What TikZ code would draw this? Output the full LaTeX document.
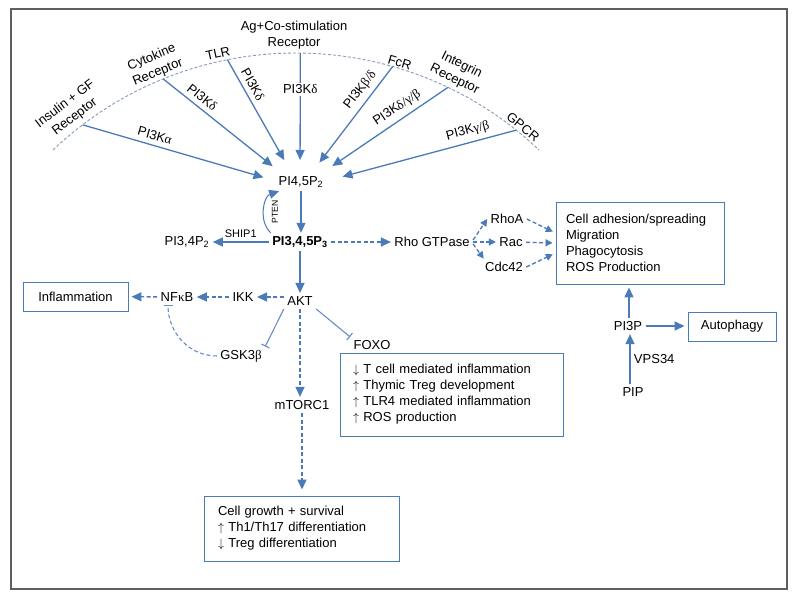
\documentclass[tikz,border=0pt]{standalone}
\usepackage{fontspec}
\setmainfont{Liberation Sans}
\newfontfamily\grk{Liberation Serif}
\usetikzlibrary{arrows.meta, positioning}
\definecolor{pathblue}{RGB}{74,122,184}
\definecolor{arcgray}{RGB}{135,155,182}
\definecolor{framegray}{RGB}{95,95,95}

\tikzset{
  every node/.style={font=\fontsize{13}{16}\selectfont},
  arr/.style={draw=pathblue, line width=1.3pt, -{Triangle[length=10pt,width=9pt]}},
  darr/.style={arr, dash pattern=on 4pt off 2.5pt},
  sarr/.style={darr, -{Triangle[length=7pt,width=7pt]}},
  inhib/.style={draw=pathblue!85, line width=1.1pt, -{Bar[width=9pt]}},
  outbox/.style={draw=pathblue, line width=0.9pt, inner sep=0pt, align=left},
  small/.style={font=\fontsize{11}{13}\selectfont},
  tiny/.style={font=\fontsize{8.6}{10}\selectfont},
}

\begin{document}
\begin{tikzpicture}[x=1pt,y=1pt]
    \useasboundingbox (0,0) rectangle (800,599);
    \draw[framegray, line width=1.2pt] (11,10) rectangle (787,590);

    % membrane and receptors
    \coordinate (mc) at (296,193);
    \coordinate (hub) at (300,411);
    \draw[arcgray, line width=0.9pt, dash pattern=on 3pt off 2pt]
        ([shift={(133.5:353)}]mc) arc (133.5:46.5:353);

    \coordinate (insR) at ([shift={(127.2:353)}]mc);
    \coordinate (cytR) at ([shift={(112.1:353)}]mc);
    \coordinate (tlrR) at ([shift={(101.2:353)}]mc);
    \coordinate (agR)  at ([shift={(89.3:353)}]mc);
    \coordinate (fcR)  at ([shift={(74.1:353)}]mc);
    \coordinate (intR) at ([shift={(64.5:353)}]mc);
    \coordinate (gpcR) at ([shift={(51.4:353)}]mc);

    \node[rotate=37.4, align=center] (insL) at ([shift={(127.4:372)}]mc) {Insulin + GF\\Receptor};
    \node[rotate=22.5, align=center] (cytL) at ([shift={(112.5:369)}]mc) {Cytokine\\Receptor};
    \node[rotate=12.5] (tlrL) at ([shift={(102.5:361)}]mc) {TLR};
    \node[align=center] (agL) at ([shift={(90.3:371)}]mc) {Ag+Co-stimulation\\Receptor};
    \node[rotate=-16.8] (fcL) at ([shift={(73.2:359)}]mc) {FcR};
    \node[rotate=-25.9, align=center] (intL) at ([shift={(64.1:371)}]mc) {Integrin\\Receptor};
    \node[rotate=-39] (gpcL) at ([shift={(50.9:360)}]mc) {GPCR};

    \draw[arr, shorten >=38pt] (insR) -- (hub) node[pos=.32, sloped, above=1.5pt] {PI3K{\grk α}};
    \draw[arr, shorten >=35pt] (cytR) -- (hub) node[pos=.24, sloped, above=1.5pt] {PI3K{\grk δ}};
    \draw[arr, shorten >=32pt] (tlrR) -- (hub) node[pos=.23, sloped, above=1.5pt] {PI3K{\grk δ}};
    \draw[arr, shorten >=28pt] (agR) -- (hub) node[pos=.27, fill=white, inner sep=2pt] {PI3K{\grk δ}};
    \draw[arr, shorten >=32pt] (fcR) -- (hub) node[pos=.25, sloped, above=1.5pt] {PI3K{\grk β/δ}};
    \draw[arr, shorten >=39pt] (intR) -- (hub) node[pos=.30, sloped, above=1.5pt] {PI3K{\grk δ/γ/β}};
    \draw[arr, shorten >=44pt] (gpcR) -- (hub) node[pos=.21, sloped, above=1.5pt] {PI3K{\grk γ/β}};

    % lipids
    \node (pip2) at (301,417) {PI4,5P\textsubscript{2}};
    \node (pip3) at (300,357) {\textbf{PI3,4,5P\textsubscript{3}}};
    \node (pi34) at (187,357) {PI3,4P\textsubscript{2}};
    \node[tiny, rotate=90] (pten) at (275,387) {PTEN};

    \draw[arr] (pip2.south) -- (pip2.south |- pip3.north);
    \draw[arr] (pip3) -- (pi34) node[midway, above, small] {SHIP1};
    \draw[arr, line width=1pt] ([xshift=2pt]pip3.north west) to[bend left=60] ([xshift=4pt]pip2.south west);

    % Rho branch
    \node (rho) at (432,357) {Rho GTPase};
    \node (rhoa) at (507,380) {RhoA};
    \node (rac) at (511,357) {Rac};
    \node (cdc) at (504,332) {Cdc42};
    \node[outbox, minimum width=168pt, minimum height=82pt, text width=148pt] (adh) at (640,356)
        {Cell adhesion/spreading\\Migration\\Phagocytosis\\ROS Production};

    \draw[darr] (pip3) -- (rho);
    \draw[sarr] ([yshift=2pt]rho.east) -- (rhoa.west);
    \draw[sarr] (rho) -- (rac);
    \draw[sarr] ([yshift=-2pt]rho.east) -- ([xshift=2pt]cdc.north west);
    \draw[sarr, shorten >=3pt] (rhoa.east) -- ([yshift=10pt]adh.west);
    \draw[sarr, shorten >=3pt] (rac) -- (adh.west);
    \draw[sarr, shorten >=3pt] (cdc.east) -- ([yshift=-10pt]adh.west);

    % PI3P branch
    \node (pi3p) at (628,273) {PI3P};
    \node[outbox, minimum width=88pt, minimum height=29pt, align=center] (auto) at (732,272.5) {Autophagy};
    \node (pip) at (633,207) {PIP};

    \draw[arr, shorten >=3pt] ([xshift=1pt]pi3p.north) -- ([xshift=1pt]pi3p.north |- adh.south);
    \draw[arr, shorten >=3pt] (pi3p.east) -- (pi3p.east -| auto.west);
    \draw[arr] ([xshift=-3pt]pip.north) -- ([xshift=-3pt]pip.north |- pi3p.south) node[midway, right] {VPS34};

    % AKT branch
    \node (akt) at (300,298) {AKT};
    \node (ikk) at (243,302) {IKK};
    \node (nfkb) at (177,302) {NF{\grk κ}B};
    \node[outbox, minimum width=105pt, minimum height=29pt, align=center] (infl) at (75.5,302.5) {Inflammation};
    \node (gsk) at (241,243) {GSK3{\grk β}};
    \node (foxo) at (372,254) {FOXO};
    \node[outbox, minimum width=223pt, minimum height=83pt, text width=197pt] (fbox) at (451.5,204.5)
        {$\downarrow$ T cell mediated inflammation\\$\uparrow$ Thymic Treg development\\$\uparrow$ TLR4 mediated inflammation\\$\uparrow$ ROS production};
    \node (mtor) at (302,194) {mTORC1};
    \node[outbox, minimum width=195pt, minimum height=65pt, text width=167pt] (grow) at (301.5,70.5)
        {Cell growth + survival\\$\uparrow$ Th1/Th17 differentiation\\$\downarrow$ Treg differentiation};

    \draw[arr] (pip3.south -| akt.north) -- (akt.north);
    \draw[darr] (akt.west |- ikk.east) -- (ikk.east);
    \draw[darr] (ikk) -- (nfkb);
    \draw[darr, shorten >=3pt] (nfkb) -- (infl);
    \draw[inhib] (akt.south west) -- (gsk.north east);
    \draw[inhib] (akt.south east) -- (foxo.north west);
    \draw[inhib, dash pattern=on 4pt off 2.5pt] (gsk.west) to[out=180, in=-90] ([xshift=-9pt]nfkb.south);
    \draw[darr] (akt.south) -- (akt.south |- mtor.north);
    \draw[darr, shorten >=6pt] (mtor.south) -- (mtor.south |- grow.north);
\end{tikzpicture}
\end{document}
